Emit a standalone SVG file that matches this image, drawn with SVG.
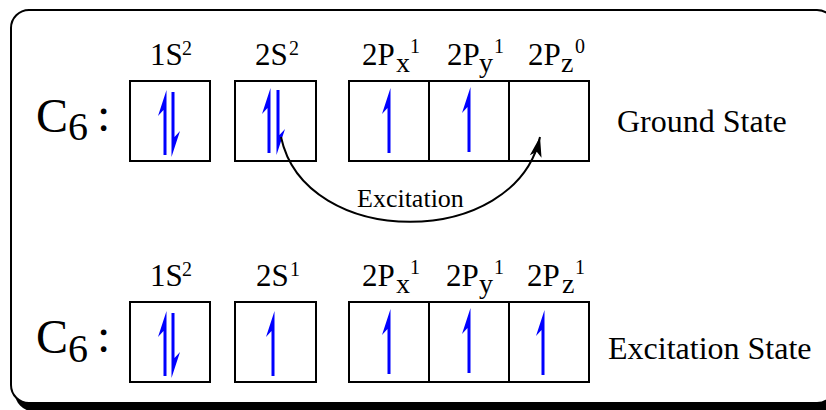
<svg xmlns="http://www.w3.org/2000/svg" xmlns:xlink="http://www.w3.org/1999/xlink" width="826" height="410" viewBox="0 0 826 410">
<style>
text{font-family:"Liberation Serif","Times New Roman",serif;fill:#000}
.box{fill:#fff;stroke:#000;stroke-width:2}
.lbl{font-size:31px}
.sub{font-size:28px}
.sup{font-size:20px}
.big{font-size:48px}
.st{font-size:32px}
.e{fill:#0000ff}
.conn{fill:none;stroke:#000;stroke-width:2}
</style>
<defs>
<path id="up" d="M1.5,0 L1.5,65 L-1.5,65 L-1.5,20 L-7,26 Z"/>
<path id="dn" d="M-1.5,0 L-1.5,-65 L1.5,-65 L1.5,-20 L7,-26 Z"/>
<marker id="ah" markerUnits="userSpaceOnUse" viewBox="-21 -7 22 14" refX="0" refY="0" markerWidth="22" markerHeight="14" orient="auto">
<path d="M0,0 L-20,-6 L-15,0 L-20,6 Z" fill="#000"/>
</marker>
</defs>
<g id="frame">
<rect x="15" y="14" width="824" height="397" rx="18" fill="#000"/>
<rect x="11" y="10" width="824" height="393" rx="18" fill="#fff" stroke="#000" stroke-width="2"/>
</g>
<g id="ground">
<g id="g-label">
<text class="big" x="36" y="132">C</text>
<text class="big" x="68" y="140" style="font-size:40px">6</text>
<text class="big" x="97" y="131">:</text>
</g>
<g id="g-1s">
<text class="lbl" x="150" y="65">1S</text><text class="sup" x="182" y="55">2</text>
<rect class="box" x="130" y="81" width="80" height="80"/>
<use href="#up" x="165" y="90" class="e"/>
<use href="#dn" x="173" y="157" class="e"/>
</g>
<g id="g-2s">
<text class="lbl" x="255" y="65">2S</text><text class="sup" x="289" y="55">2</text>
<rect class="box" x="235" y="81" width="81" height="80"/>
<use href="#up" x="269" y="88" class="e"/>
<use href="#dn" x="278" y="155" class="e"/>
</g>
<g id="g-2px">
<text class="lbl" x="362" y="65">2P</text><text class="sub" x="396" y="72">x</text><text class="sup" x="410" y="53">1</text>
<rect class="box" x="349" y="81" width="80" height="80"/>
<use href="#up" x="389" y="88" class="e"/>
</g>
<g id="g-2py">
<text class="lbl" x="447" y="65">2P</text><text class="sub" x="479" y="72">y</text><text class="sup" x="494" y="53">1</text>
<rect class="box" x="429" y="81" width="80" height="80"/>
<use href="#up" x="469" y="87" class="e"/>
</g>
<g id="g-2pz">
<text class="lbl" x="528" y="65">2P</text><text class="sub" x="561" y="72">z</text><text class="sup" x="575" y="53">0</text>
<rect class="box" x="509" y="81" width="80" height="80"/>
</g>
<text class="st" x="617" y="132">Ground State</text>
</g>
<g id="excited">
<g id="x-label">
<text class="big" x="36" y="353">C</text>
<text class="big" x="68" y="362" style="font-size:40px">6</text>
<text class="big" x="97" y="352">:</text>
</g>
<g id="x-1s">
<text class="lbl" x="150" y="286">1S</text><text class="sup" x="182" y="276">2</text>
<rect class="box" x="130" y="302" width="80" height="80"/>
<use href="#up" x="165" y="311" class="e"/>
<use href="#dn" x="173" y="378" class="e"/>
</g>
<g id="x-2s">
<text class="lbl" x="256" y="286">2S</text><text class="sup" x="290" y="276">1</text>
<rect class="box" x="235" y="302" width="81" height="80"/>
<use href="#up" x="273" y="311" class="e"/>
</g>
<g id="x-2px">
<text class="lbl" x="362" y="286">2P</text><text class="sub" x="396" y="293">x</text><text class="sup" x="410" y="274">1</text>
<rect class="box" x="349" y="302" width="80" height="80"/>
<use href="#up" x="389" y="309" class="e"/>
</g>
<g id="x-2py">
<text class="lbl" x="446" y="286">2P</text><text class="sub" x="479" y="293">y</text><text class="sup" x="494" y="274">1</text>
<rect class="box" x="429" y="302" width="80" height="80"/>
<use href="#up" x="469" y="308" class="e"/>
</g>
<g id="x-2pz">
<text class="lbl" x="527" y="286">2P</text><text class="sub" x="562" y="293">z</text><text class="sup" x="575" y="274">1</text>
<rect class="box" x="509" y="302" width="80" height="80"/>
<use href="#up" x="543" y="310" class="e"/>
</g>
<text class="st" x="608" y="359">Excitation State</text>
</g>
<g id="connectors">
<path class="conn" d="M281,137 C305,250 515,250 540,137" marker-end="url(#ah)"/>
<text x="357" y="207" style="font-size:26px">Excitation</text>
</g>
</svg>
